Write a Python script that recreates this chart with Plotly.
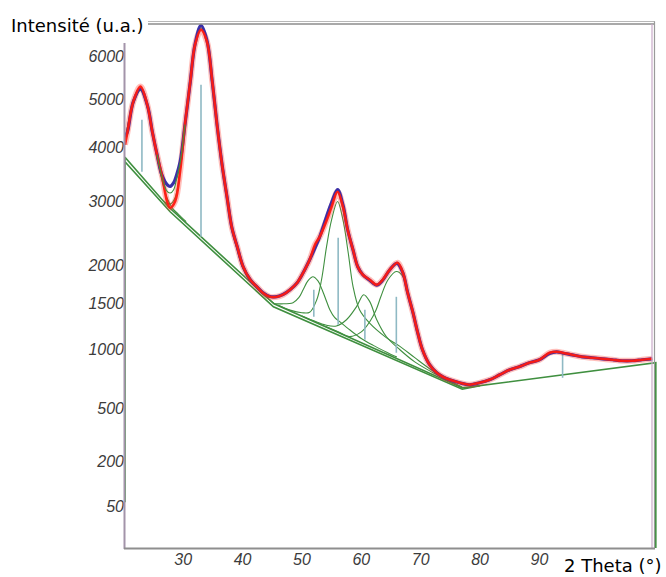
import numpy as np
import plotly.graph_objects as go

# ---------------- data ----------------
tt_obs = [20.2, 20.6, 21.6, 22.8, 23.95, 24.8, 25.6, 26.5, 27.3, 27.8, 28.65, 29.5, 30.3, 31.2, 32.0,
          33.0, 34.0, 34.9, 35.7, 36.55, 37.4, 38.2, 39.1, 40.1, 41.3, 42.4, 43.4, 44.6, 45.8, 46.8,
          48.0, 49.2, 50.2, 51.3, 52.2, 53.0, 54.2, 55.0, 56.0, 56.9, 57.7, 58.6, 59.4, 60.25, 61.4,
          62.6, 63.6, 64.8, 66.1, 67.0, 67.8, 68.7, 69.5, 70.3, 71.5, 72.7, 73.7, 74.9, 76.55, 78.2,
          79.9, 81.6, 83.3, 85.0, 86.6, 88.3, 90.0, 91.7, 92.9, 93.9, 95.5, 97.2, 98.9, 100.6, 102.3,
          103.9, 105.6, 107.3, 109.0]
int_obs = [4044, 4290, 4944, 5280, 4876, 4306, 3848, 3415, 2991, 2889, 3000, 3550, 4452, 5393, 6275,
           6650, 6350, 5393, 4452, 3656, 3059, 2563, 2271, 1983, 1806, 1715, 1638, 1587, 1587, 1613,
           1676, 1767, 1900, 2082, 2301, 2423, 2691, 2906, 3164, 2906, 2531, 2226, 1983, 1873, 1806,
           1740, 1806, 1942, 2039, 1900, 1638, 1395, 1171, 996, 854, 782, 748, 722, 697, 681,
           697, 722, 765, 809, 836, 872, 900, 967, 977, 967, 947, 928, 919, 909, 900,
           891, 891, 900, 909]

tt_fit = [20.2, 20.6, 21.6, 22.8, 24.0, 24.8, 25.6, 26.4, 27.3, 27.8, 28.4, 28.9, 29.5, 30.3, 31.2,
          32.0, 33.0, 34.0, 34.9, 35.7, 36.55, 37.4, 38.2, 39.1, 40.1, 41.3, 42.4, 43.4, 44.6, 45.8,
          46.8, 48.0, 49.2, 50.2, 51.3, 52.2, 53.0, 54.2, 55.0, 56.0, 56.9, 57.7, 58.6, 59.4, 60.25,
          61.4, 62.6, 63.6, 64.8, 66.0, 67.0, 67.8, 68.7, 69.5, 70.3, 71.5, 72.7, 73.7, 74.9, 76.55,
          78.2, 79.9, 81.6, 83.3, 85.0, 86.6, 88.3, 90.0, 91.7, 92.9, 93.9, 95.5, 97.2, 98.9, 100.6,
          102.3, 103.9, 105.6, 107.3, 109.0]
int_fit = [4200, 4300, 4944, 5230, 4850, 4306, 3848, 3470, 3288, 3257, 3325, 3470, 3720, 4452, 5393,
           6290, 6760, 6380, 5393, 4452, 3656, 3059, 2563, 2271, 1983, 1806, 1715, 1640, 1590, 1590,
           1615, 1676, 1767, 1900, 2082, 2250, 2423, 2760, 2980, 3200, 2940, 2531, 2226, 1983, 1873,
           1800, 1735, 1800, 1942, 2030, 1900, 1638, 1395, 1171, 996, 854, 782, 748, 722, 697,
           681, 697, 722, 765, 809, 836, 872, 900, 960, 975, 965, 947, 928, 919, 909,
           900, 891, 891, 900, 909]

tt_sum = [25.6, 26.4, 27.3, 27.8, 28.4, 28.9, 29.5, 30.3]
int_sum = [3848, 3440, 3168, 3141, 3200, 3400, 3700, 4452]

tt_bg1 = [20.2, 20.2, 27.5, 45.3, 77.06, 109.6, 109.6]
int_bg1 = [60, 3800, 2906, 1501, 656, 872, 0]
tt_bg2 = [20.2, 27.8, 45.2, 77.0, 80.0]
int_bg2 = [3713, 2822, 1465, 645, 674]

tt_compA = [20.2, 21.6, 22.8, 24.0, 24.8, 25.6, 26.5, 27.3, 28.2, 29.2, 30.5]
int_compA = [4150, 4900, 5200, 4800, 4280, 3800, 3330, 3050, 2880, 2780, 2660]
tt_compB = [26.8, 27.8, 28.6, 29.5, 30.3, 31.2, 32.0, 33.0, 34.0, 34.9, 35.7, 36.55, 37.4, 38.2,
            39.1, 40.1, 41.3, 42.4, 43.5, 45.3]
int_compB = [2990, 2950, 3050, 3550, 4400, 5350, 6230, 6700, 6330, 5350, 4420, 3620, 3030, 2530,
             2230, 1950, 1780, 1690, 1610, 1505]
tt_compC = [45.3, 46.5, 48.5, 49.5, 50.2, 51.0, 51.85, 52.7, 53.4, 54.2, 54.7, 55.5, 56.4, 58.1,
            60.0, 62.0, 64.0, 66.0]
int_compC = [1501, 1500, 1515, 1580, 1676, 1790, 1846, 1790, 1676, 1520, 1430, 1340, 1290, 1200,
             1110, 1040, 980, 925]
tt_compD = [46.0, 48.0, 50.0, 51.3, 52.5, 53.3, 54.15, 55.0, 56.0, 56.9, 57.8, 58.6, 59.7, 61.4,
            64.2, 66.5, 69.0, 72.0, 75.0, 77.0]
int_compD = [1482, 1425, 1395, 1400, 1550, 1806, 2275, 2691, 2995, 2691, 2179, 1720, 1430, 1276,
             1120, 1030, 920, 800, 705, 658]
tt_compE = [50.0, 52.0, 54.0, 55.8, 57.5, 59.2, 60.4, 61.4, 62.6, 64.2, 66.5, 69.0, 72.0, 75.0]
int_compE = [1358, 1302, 1255, 1245, 1314, 1467, 1613, 1530, 1314, 1131, 996, 880, 785, 705]
tt_compF = [54.0, 56.0, 58.0, 60.0, 61.5, 62.5, 63.3, 64.5, 65.9, 67.0, 67.8, 68.7, 69.5, 70.3,
            71.5, 72.7, 74.0, 76.0, 77.0]
int_compF = [1240, 1185, 1130, 1180, 1300, 1430, 1590, 1806, 1917, 1850, 1620, 1390, 1170, 996,
             860, 790, 735, 685, 660]

stick_tt = [23.05, 33.0, 52.0, 56.1, 60.6, 65.9, 93.9]
stick_low = [3526, 2423, 1348, 1258, 1097, 967, 739]
stick_high = [4556, 5325, 1676, 2405, 1430, 1587, 967]

y_ticks = [50, 200, 500, 1000, 1500, 2000, 3000, 4000, 5000, 6000]
x_ticks = [30, 40, 50, 60, 70, 80, 90]

# ---------------- figure ----------------
def s(v):
    return np.sqrt(np.asarray(v, dtype=float))

GREEN = "#3f8f3f"
fig = go.Figure()

for xx, yy in [(tt_bg1, int_bg1), (tt_bg2, int_bg2)]:
    fig.add_trace(go.Scatter(x=xx, y=s(yy), mode="lines",
                             line=dict(color=GREEN, width=1.6), hoverinfo="skip"))

for xx, yy in [(tt_compA, int_compA), (tt_compB, int_compB), (tt_compC, int_compC),
               (tt_compD, int_compD), (tt_compE, int_compE), (tt_compF, int_compF)]:
    fig.add_trace(go.Scatter(x=xx, y=s(yy), mode="lines", line_shape="spline",
                             line=dict(color=GREEN, width=1.1), hoverinfo="skip"))

sx, sy = [], []
for t, lo, hi in zip(stick_tt, stick_low, stick_high):
    sx += [t, t, None]
    sy += [np.sqrt(lo), np.sqrt(hi), None]
fig.add_trace(go.Scatter(x=sx, y=sy, mode="lines", line=dict(color="#8fb9c4", width=1.6),
                         hoverinfo="skip"))

# faint halo that stands for the noise band of the measured pattern
fig.add_trace(go.Scatter(x=tt_obs, y=s(int_obs), mode="lines", line_shape="spline",
                         line=dict(color="#ff3020", width=6), opacity=0.3, hoverinfo="skip"))
fig.add_trace(go.Scatter(x=tt_fit, y=s(int_fit), mode="lines", line_shape="spline",
                         line=dict(color="#3a30a8", width=3.2), hoverinfo="skip"))
fig.add_trace(go.Scatter(x=tt_obs, y=s(int_obs), mode="lines", line_shape="spline",
                         line=dict(color="#ff1a10", width=2.6), opacity=0.95, hoverinfo="skip"))
fig.add_trace(go.Scatter(x=tt_sum, y=s(int_sum), mode="lines", line_shape="spline",
                         line=dict(color=GREEN, width=1.1), hoverinfo="skip"))

W, H = 666, 577
L, R, T, B = 125, 9, 23, 29
pw, ph = W - L - R, H - T - B

def px(xp):
    return (xp - L) / pw

def py(yp):
    return 1 - (yp - T) / ph

shapes = [
    dict(type="line", xref="paper", yref="paper", x0=px(148), x1=px(655), y0=py(21.5), y1=py(21.5),
         line=dict(color="#b8b8b8", width=1.2)),
    dict(type="line", xref="paper", yref="paper", x0=px(148), x1=px(655), y0=py(24), y1=py(24),
         line=dict(color="#8c8c8c", width=1.4)),
    dict(type="line", xref="paper", yref="paper", x0=px(652), x1=px(652), y0=py(24), y1=py(548),
         line=dict(color="#c9aac9", width=1.2)),
    dict(type="line", xref="paper", yref="paper", x0=px(654.5), x1=px(654.5), y0=py(21.5), y1=py(548),
         line=dict(color="#9a9a9a", width=1.2)),
    dict(type="line", xref="paper", yref="paper", x0=px(124.5), x1=px(124.5), y0=py(43), y1=py(549),
         line=dict(color="#a394aa", width=2)),
    dict(type="line", xref="paper", yref="paper", x0=px(124), x1=px(655), y0=py(548.5), y1=py(548.5),
         line=dict(color="#8e8e8e", width=2)),
]

fig.update_layout(
    width=W, height=H,
    margin=dict(l=L, r=R, t=T, b=B),
    paper_bgcolor="white", plot_bgcolor="white",
    showlegend=False,
    shapes=shapes,
    xaxis=dict(range=[20.2, 109.8], showgrid=False, zeroline=False, showline=False,
               tickmode="array", tickvals=x_ticks, ticktext=[str(v) for v in x_ticks],
               ticks="", tickfont=dict(family="Liberation Sans", size=16, color="#3c3c3c",
                                       style="italic")),
    yaxis=dict(range=[0.6, 82.6], showgrid=False, zeroline=False, showline=False,
               tickmode="array", tickvals=list(np.sqrt(y_ticks)), ticktext=[str(v) for v in y_ticks],
               ticks="", tickfont=dict(family="Liberation Sans", size=16, color="#3c3c3c",
                                       style="italic")),
    annotations=[
        dict(text="Intensité (u.a.)", xref="paper", yref="paper", x=px(9), y=py(25),
             xanchor="left", yanchor="middle", showarrow=False,
             font=dict(family="DejaVu Sans", size=18, color="black")),
        dict(text="2 Theta (°)", xref="paper", yref="paper", x=px(562), y=py(565),
             xanchor="left", yanchor="middle", showarrow=False,
             font=dict(family="DejaVu Sans", size=18, color="black")),
    ],
)

fig.write_html("out.html", config={"displayModeBar": False},
               post_script="document.body.style.margin='0';document.body.style.padding='0';")
